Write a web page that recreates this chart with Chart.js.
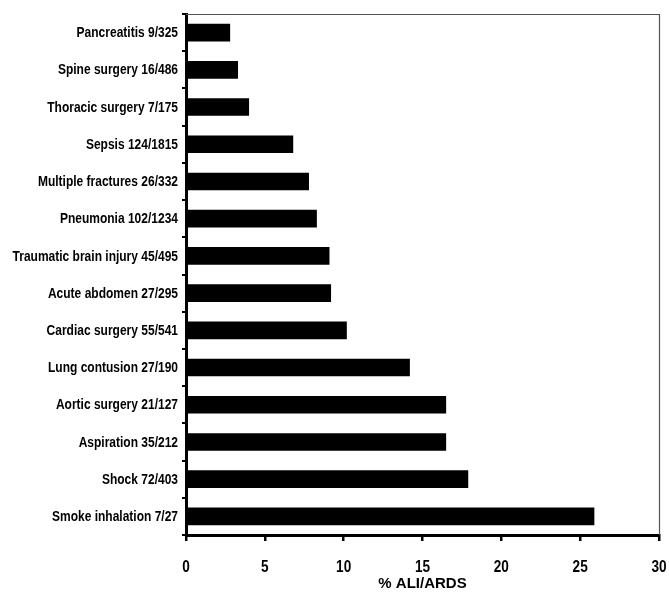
<!DOCTYPE html>
<html>
<head>
<meta charset="utf-8">
<script src="https://cdn.jsdelivr.net/npm/chart.js@4.4.0/dist/chart.umd.min.js"></script>
<style>
  html, body { margin: 0; padding: 0; background: #fff; }
  #wrap { width: 669px; height: 593px; position: relative; }
</style>
</head>
<body>
<div id="wrap"><canvas id="chart"></canvas></div>
<script>
// Risk factors, top to bottom as in the figure
const categories = [
  'Pancreatitis 9/325',
  'Spine surgery 16/486',
  'Thoracic surgery 7/175',
  'Sepsis 124/1815',
  'Multiple fractures 26/332',
  'Pneumonia 102/1234',
  'Traumatic brain injury 45/495',
  'Acute abdomen 27/295',
  'Cardiac surgery 55/541',
  'Lung contusion 27/190',
  'Aortic surgery 21/127',
  'Aspiration 35/212',
  'Shock 72/403',
  'Smoke inhalation 7/27'
];
const aliArdsPct = [2.8, 3.3, 4.0, 6.8, 7.8, 8.3, 9.1, 9.2, 10.2, 14.2, 16.5, 16.5, 17.9, 25.9];
const xTicks = [0, 5, 10, 15, 20, 25, 30];

const SANS = "'Liberation Sans', Arial, sans-serif";

// no narrow Arial installed, so squeeze Liberation Sans sideways for the tick text
function narrowText(ctx, text, x, y, size, squeeze, align) {
  ctx.save();
  ctx.translate(x, y);
  ctx.scale(squeeze, 1);
  ctx.font = 'bold ' + size + 'px ' + SANS;
  ctx.fillStyle = '#000';
  ctx.textAlign = align;
  ctx.textBaseline = 'middle';
  ctx.fillText(text, 0, 0);
  ctx.restore();
}

const labelsPlugin = {
  id: 'narrowLabels',
  afterDraw(chart) {
    const { ctx, chartArea: a } = chart;
    const xs = chart.scales.x, ys = chart.scales.y;

    // thin grey frame on top and right of the plot
    ctx.save();
    ctx.strokeStyle = '#555';
    ctx.lineWidth = 1.2;
    ctx.beginPath();
    ctx.moveTo(a.left, a.top + 0.5);
    ctx.lineTo(a.right + 0.5, a.top + 0.5);
    ctx.lineTo(a.right + 0.5, a.bottom);
    ctx.stroke();
    ctx.restore();

    categories.forEach((c, i) => {
      narrowText(ctx, c, ys.right - 8, ys.getPixelForTick(i) + 0.5, 15, 0.8, 'right');
    });
    xTicks.forEach(v => {
      narrowText(ctx, String(v), xs.getPixelForValue(v), a.bottom + 32, 17, 0.8, 'center');
    });
  }
};

new Chart(document.getElementById('chart'), {
  type: 'bar',
  data: {
    labels: categories,
    datasets: [{
      data: aliArdsPct,
      backgroundColor: '#000',
      borderWidth: 0,
      barPercentage: 0.5,
      categoryPercentage: 0.95
    }]
  },
  options: {
    indexAxis: 'y',
    responsive: true,
    maintainAspectRatio: false,
    animation: false,
    layout: { padding: { top: 14, right: 10, left: 0, bottom: 0 } },
    plugins: { legend: { display: false }, tooltip: { enabled: false } },
    scales: {
      x: {
        min: 0,
        max: 30,
        afterBuildTicks: s => { s.ticks = xTicks.map(v => ({ value: v })); },
        afterFit: s => { s.height = 58; },
        grid: { drawOnChartArea: false, drawTicks: true, tickLength: 6, color: '#000', lineWidth: 2.5 },
        border: { display: true, color: '#000', width: 3 },
        ticks: { display: false },
        title: {
          display: true,
          text: '% ALI/ARDS',
          color: '#000',
          padding: 0,
          font: { family: SANS, size: 15, weight: 'bold' }
        }
      },
      y: {
        afterFit: s => { s.width = 186; },
        grid: { offset: true, drawOnChartArea: false, drawTicks: true, tickLength: 4, color: '#000', lineWidth: 2 },
        border: { display: true, color: '#000', width: 3 },
        ticks: { display: false, autoSkip: false }
      }
    }
  },
  plugins: [labelsPlugin]
});
</script>
</body>
</html>
